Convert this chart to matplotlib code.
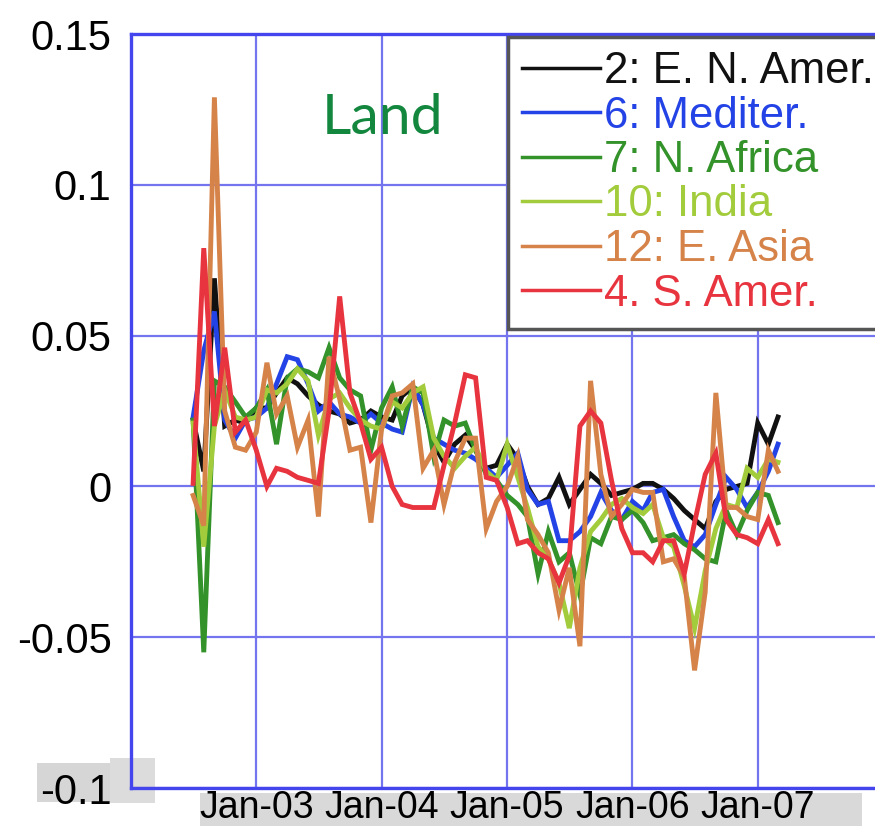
import numpy as np
import pandas as pd
import matplotlib
matplotlib.use("Agg")
import matplotlib.pyplot as plt
import matplotlib.dates as mdates
from matplotlib.patches import Rectangle

# monthly land series, Jul 2002 - Mar 2007
months = pd.date_range("2002-07-01", periods=57, freq="MS")

e_n_amer = [0.022, 0.005, 0.069, 0.020, 0.022, 0.021, 0.026, 0.026, 0.031, 0.036,
            0.034, 0.030, 0.027, 0.025, 0.024, 0.021, 0.022, 0.025, 0.023, 0.022,
            0.030, 0.033, 0.027, 0.014, 0.008, 0.014, 0.017, 0.012, 0.006, 0.007,
            0.014, 0.009, 0.000, -0.006, -0.004, 0.003, -0.006, -0.001, 0.004, 0.001,
            -0.003, -0.002, -0.001, 0.001, 0.001, -0.001, -0.004, -0.008, -0.011, -0.014,
            -0.005, -0.001, 0.000, 0.001, 0.021, 0.014, 0.023]
mediter = [0.023, 0.045, 0.058, 0.022, 0.016, 0.022, 0.023, 0.026, 0.034, 0.043,
           0.042, 0.034, 0.025, 0.028, 0.024, 0.023, 0.021, 0.024, 0.021, 0.019,
           0.018, 0.033, 0.027, 0.016, 0.014, 0.012, 0.011, 0.009, 0.006, 0.003,
           0.007, 0.011, -0.001, -0.006, -0.005, -0.018, -0.018, -0.015, -0.010, -0.002,
           -0.008, -0.011, -0.005, -0.008, -0.002, -0.001, -0.010, -0.018, -0.020, -0.016,
           -0.006, 0.003, -0.001, -0.007, -0.002, 0.005, 0.014]
n_africa = [0.022, -0.055, 0.035, 0.033, 0.028, 0.023, 0.026, 0.032, 0.014, 0.036,
            0.039, 0.038, 0.036, 0.046, 0.036, 0.032, 0.030, 0.012, 0.026, 0.033,
            0.020, 0.033, 0.031, 0.010, 0.022, 0.020, 0.021, 0.012, 0.004, 0.002,
            -0.003, -0.006, -0.010, -0.029, -0.015, -0.025, -0.022, -0.036, -0.017, -0.019,
            -0.010, -0.011, -0.008, -0.012, -0.018, -0.017, -0.016, -0.019, -0.021, -0.024,
            -0.025, -0.008, -0.016, -0.008, -0.002, -0.003, -0.012]
india = [0.021, -0.020, 0.020, 0.032, 0.023, 0.022, 0.023, 0.032, 0.031, 0.034,
         0.039, 0.035, 0.017, 0.029, 0.031, 0.026, 0.022, 0.020, 0.019, 0.028,
         0.026, 0.031, 0.033, 0.016, 0.010, 0.006, 0.010, 0.013, 0.005, 0.002,
         0.014, 0.003, -0.007, -0.020, -0.024, -0.032, -0.047, -0.027, -0.015, -0.011,
         -0.006, -0.004, -0.007, -0.009, -0.006, -0.017, -0.020, -0.033, -0.047, -0.028,
         -0.014, -0.006, -0.007, 0.006, 0.003, 0.009, 0.008]
e_asia = [-0.003, -0.013, 0.129, 0.025, 0.013, 0.012, 0.018, 0.041, 0.024, 0.030,
          0.013, 0.022, -0.010, 0.043, 0.029, 0.012, 0.013, -0.012, 0.019, 0.030,
          0.031, 0.034, 0.006, 0.012, -0.006, 0.008, 0.016, 0.016, -0.014, -0.005,
          0.000, 0.010, -0.011, -0.016, -0.022, -0.041, -0.027, -0.053, 0.035, 0.004,
          -0.010, -0.006, -0.001, -0.002, -0.002, -0.025, -0.024, -0.030, -0.061, -0.035,
          0.031, -0.007, -0.007, -0.010, -0.011, 0.012, 0.005]
s_amer = [0.001, 0.079, 0.020, 0.046, 0.018, 0.022, 0.012, 0.000, 0.006, 0.005,
          0.003, 0.002, 0.001, 0.025, 0.063, 0.031, 0.021, 0.009, 0.013, 0.000,
          -0.006, -0.007, -0.007, -0.007, 0.007, 0.021, 0.037, 0.036, 0.003, 0.002,
          -0.007, -0.019, -0.018, -0.022, -0.024, -0.032, -0.023, 0.020, 0.025, 0.021,
          0.002, -0.014, -0.022, -0.022, -0.025, -0.018, -0.018, -0.029, -0.012, 0.004,
          0.011, -0.011, -0.016, -0.017, -0.019, -0.011, -0.019]

labels = ["2: E. N. Amer.", "6: Mediter.", "7: N. Africa", "10: India", "12: E. Asia", "4. S. Amer."]
colors = ["#111111", "#2443e6", "#33922a", "#a2cc3c", "#d6834a", "#e8343e"]
series = [e_n_amer, mediter, n_africa, india, e_asia, s_amer]

yticks = [-0.1, -0.05, 0, 0.05, 0.1, 0.15]
ytick_labels = ["-0.1", "-0.05", "0", "0.05", "0.1", "0.15"]
xtick_years = [2003, 2004, 2005, 2006, 2007]

plt.rcParams["font.family"] = ["Liberation Sans", "DejaVu Sans"]

W, H = 875, 826
fig = plt.figure(figsize=(W / 100, H / 100), dpi=100)
fig.patch.set_facecolor("white")

# grey screenshot patches behind the tick labels
fig.patches.append(Rectangle((37 / W, 1 - 802 / H), 73 / W, 39 / H, transform=fig.transFigure,
                             facecolor="#d6d6d6", edgecolor="none", zorder=-1))
fig.patches.append(Rectangle((110 / W, 1 - 803 / H), 45 / W, 45 / H, transform=fig.transFigure,
                             facecolor="#dcdcdc", edgecolor="none", zorder=-1))
fig.patches.append(Rectangle((200 / W, 0), 662 / W, 33 / H, transform=fig.transFigure,
                             facecolor="#d9d9d9", edgecolor="none", zorder=-1))

ax = fig.add_axes([131 / W, 38 / H, 752 / W, 754 / H])
ax.patch.set_alpha(0)

for vals, lab, col in zip(series, labels, colors):
    ax.plot(months, vals, color=col, lw=3.5, label=lab, solid_joinstyle="miter")

ax.set_ylim(-0.1, 0.15)
ax.set_xlim(pd.Timestamp("2002-01-01"), pd.Timestamp("2008-01-01"))
ax.set_yticks(yticks)
ax.set_yticklabels(ytick_labels)
ax.set_xticks([pd.Timestamp(f"{y}-01-01") for y in xtick_years])
ax.xaxis.set_major_formatter(mdates.DateFormatter("%b-%y"))
ax.tick_params(axis="y", length=0, pad=14, labelsize=30)
ax.tick_params(axis="x", length=0, pad=1.5, labelsize=27)

ax.grid(True, color="#7474ee", lw=1.6)
for s in ax.spines.values():
    s.set_color("#4545ee")
    s.set_linewidth(2.4)

leg = ax.legend(loc="upper left", bbox_to_anchor=(508 / W, 1 - 37 / H), bbox_transform=fig.transFigure,
                borderaxespad=0, fontsize=31.5, labelspacing=0.08, handlelength=1.78,
                handletextpad=0.1, borderpad=0.32, fancybox=False, framealpha=1)
leg.get_frame().set_edgecolor("#555555")
leg.get_frame().set_linewidth(2.5)
for txt, col in zip(leg.get_texts(), colors):
    txt.set_color(col)
for ln in leg.get_lines():
    ln.set_linewidth(2.5)

fig.text(322 / W, 1 - 134 / H, "Land", color="#13873e", fontsize=41,
         family=["Lato", "DejaVu Sans"], ha="left", va="baseline")

fig.savefig("out.png", dpi=100)
